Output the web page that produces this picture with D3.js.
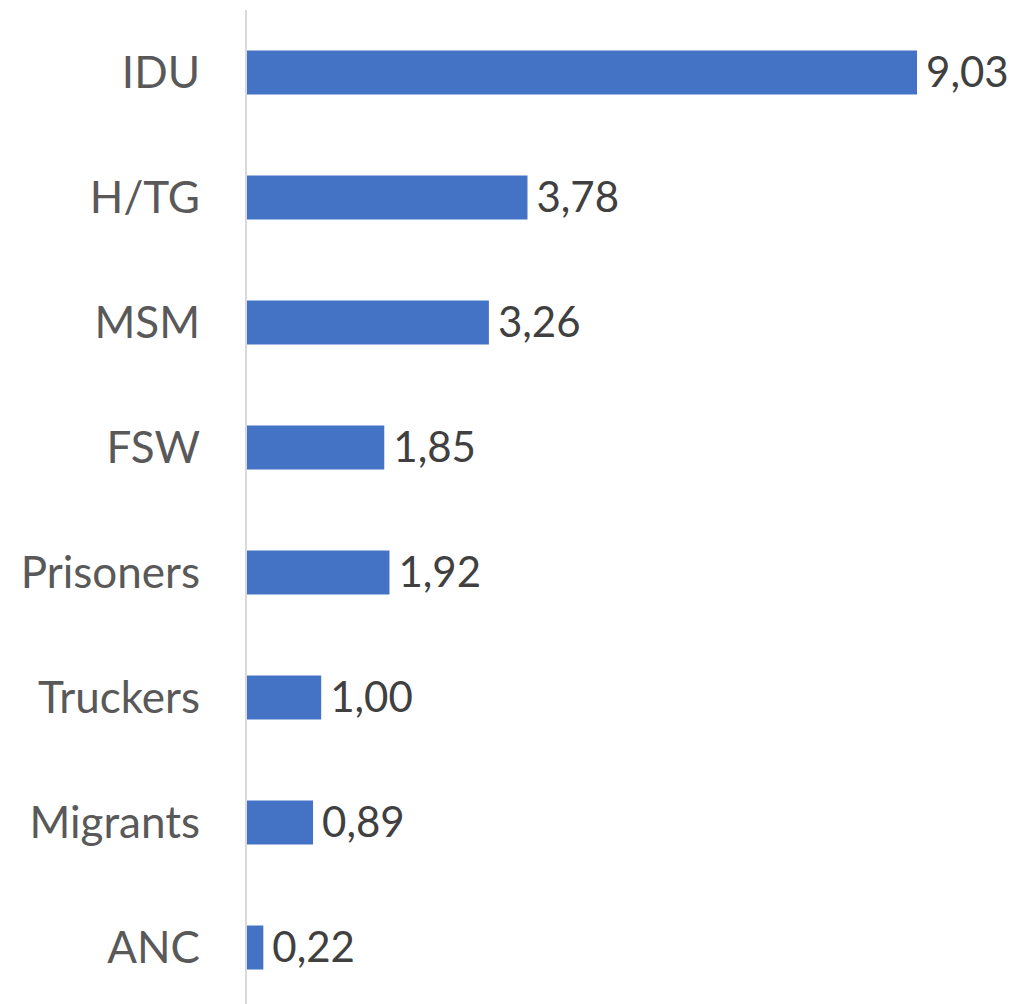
<!DOCTYPE html>
<html>
<head>
<meta charset="utf-8">
<script src="https://cdn.jsdelivr.net/npm/d3@7"></script>
<style>
  html, body { margin: 0; padding: 0; background: #fff; }
</style>
</head>
<body>
<svg id="bar-svg" width="1013" height="1004"></svg>
<script>
const categories = ['IDU', 'H/TG', 'MSM', 'FSW', 'Prisoners', 'Truckers', 'Migrants', 'ANC'];
const values = [9.03, 3.78, 3.26, 1.85, 1.92, 1.00, 0.89, 0.22];

const data = categories.map((c, i) => ({ cat: c, val: values[i] }));

const svg = d3.select('#bar-svg');
const fontFamily = 'Lato, "Open Sans", sans-serif';

// scales
const xScale = d3.scaleLinear()
  .domain([0, 10])
  .range([247, 989]);

const yScale = d3.scaleBand()
  .domain(categories)
  .range([10, 1010])
  .paddingInner(0.648)
  .paddingOuter(0.324);

// bars
svg.selectAll('.bar')
  .data(data)
  .enter().append('rect')
  .attr('class', 'bar')
  .attr('x', xScale(0))
  .attr('y', d => yScale(d.cat))
  .attr('width', d => xScale(d.val) - xScale(0))
  .attr('height', yScale.bandwidth())
  .style('fill', '#4472C4');

// vertical axis line
svg.append('line')
  .attr('x1', xScale(0) - 1).attr('x2', xScale(0) - 1)
  .attr('y1', 10).attr('y2', 1010)
  .attr('stroke', '#d9d9d9')
  .attr('stroke-width', 2);

// category labels
svg.selectAll('.cat-label')
  .data(data)
  .enter().append('text')
  .attr('class', 'cat-label')
  .attr('x', 200)
  .attr('y', d => yScale(d.cat) + yScale.bandwidth() / 2)
  .attr('dy', '0.35em')
  .attr('text-anchor', 'end')
  .style('font-family', fontFamily)
  .style('font-size', '44px')
  .style('fill', '#595959')
  .text(d => d.cat);

// value labels
svg.selectAll('.val-label')
  .data(data)
  .enter().append('text')
  .attr('class', 'val-label')
  .attr('x', d => xScale(d.val) + 9)
  .attr('y', d => yScale(d.cat) + yScale.bandwidth() / 2)
  .attr('dy', '0.35em')
  .style('font-family', fontFamily)
  .style('font-size', '42px')
  .style('fill', '#404040')
  .text(d => d.val.toFixed(2).replace('.', ','));
</script>
</body>
</html>
